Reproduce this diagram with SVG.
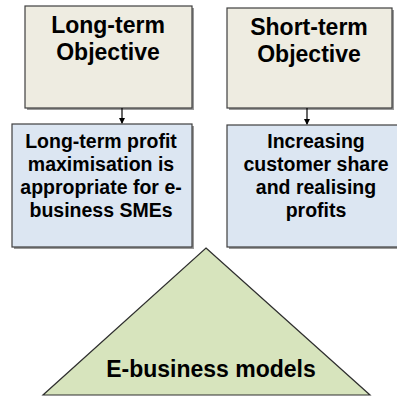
<svg xmlns="http://www.w3.org/2000/svg" width="397" height="403" viewBox="0 0 397 403">
<defs>
<style>
.box{stroke:#3f3f3f;stroke-width:1.2}
.shadow{fill:#9a9a9a}
.tan{fill:#EEECE1}
.blue{fill:#DCE6F2}
.tri{fill:#D7E4BD;stroke:#2f2f2f;stroke-width:1.2}
.t{font-family:"Liberation Sans",Arial,sans-serif;font-weight:bold;fill:#000;text-anchor:middle}
.big{font-size:23px}
.mid{font-size:19.5px}
.conn{stroke:#000;stroke-width:1.2;fill:none}
</style>
<marker id="ah" markerWidth="6" markerHeight="6" refX="5" refY="3" orient="auto" markerUnits="userSpaceOnUse">
<path d="M0,0 L6,3 L0,6 Z" fill="#000"/>
</marker>
</defs>
<rect width="397" height="403" fill="#fff"/>
<g id="longterm-objective">
<rect class="shadow" x="27" y="8" width="167" height="102"/>
<rect class="box tan" x="25" y="6" width="167" height="102"/>
<text class="t big" x="108" y="33">Long-term</text>
<text class="t big" x="108" y="60">Objective</text>
</g>
<g id="shortterm-objective">
<rect class="shadow" x="229" y="10" width="165" height="100"/>
<rect class="box tan" x="227" y="8" width="165" height="100"/>
<text class="t big" x="309" y="35">Short-term</text>
<text class="t big" x="309" y="62">Objective</text>
</g>
<g id="longterm-profit">
<rect class="shadow" x="14" y="126" width="180" height="123"/>
<rect class="box blue" x="12" y="124" width="180" height="123"/>
<text class="t mid" x="101" y="148">Long-term profit</text>
<text class="t mid" x="101" y="171">maximisation is</text>
<text class="t mid" x="101" y="194">appropriate for e-</text>
<text class="t mid" x="101" y="217">business SMEs</text>
</g>
<g id="customer-share">
<rect class="shadow" x="229" y="127" width="178" height="122"/>
<rect class="box blue" x="227" y="125" width="178" height="122"/>
<text class="t mid" x="316" y="148">Increasing</text>
<text class="t mid" x="316" y="171">customer share</text>
<text class="t mid" x="316" y="194">and realising</text>
<text class="t mid" x="316" y="217">profits</text>
</g>
<g id="ebusiness-models">
<polygon class="tri" points="206,248 370,395 43,395"/>
<text class="t big" x="211" y="377">E-business models</text>
</g>
<g id="connectors">
<line class="conn" x1="122" y1="108" x2="122" y2="123" marker-end="url(#ah)"/>
<line class="conn" x1="307" y1="108" x2="307" y2="124" marker-end="url(#ah)"/>
</g>
</svg>
